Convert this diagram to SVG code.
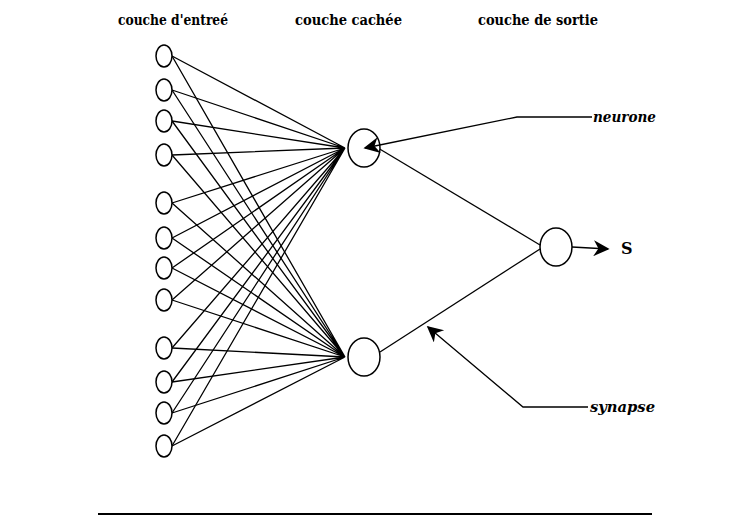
<svg xmlns="http://www.w3.org/2000/svg" width="733" height="518" viewBox="0 0 733 518">
<style>
.n{fill:#fff;stroke:#000;stroke-width:1.5}
.e{stroke:#000;stroke-width:1.3;fill:none}
.t{font-family:"DejaVu Serif","Liberation Serif",serif;font-size:14px;font-weight:bold;fill:#000}
.i{font-family:"DejaVu Serif","Liberation Serif",serif;font-size:14px;font-style:italic;font-weight:bold;fill:#000}
.s{font-family:"DejaVu Serif","Liberation Serif",serif;font-size:16px;font-weight:bold;fill:#000}
</style>
<defs>
<marker id="ab" viewBox="0 0 10 10" refX="9" refY="5" markerWidth="20" markerHeight="16" markerUnits="userSpaceOnUse" orient="auto">
<path d="M0,0 L10,5 L0,10 L3,5 z" fill="#000"/>
</marker>
</defs>
<rect width="733" height="518" fill="#fff"/>
<text class="t" x="118" y="25" textLength="110" lengthAdjust="spacingAndGlyphs">couche d'entreé</text>
<text class="t" x="295" y="25" textLength="107" lengthAdjust="spacingAndGlyphs">couche cachée</text>
<text class="t" x="478" y="25" textLength="120" lengthAdjust="spacingAndGlyphs">couche de sortie</text>
<g id="connectors">
<path class="e" d="M172,56L345,148M172,90L345,148M172,121L345,148M172,155L345,148M172,203L345,148M172,238L345,148M172,268L345,148M172,300L345,148M172,348L345,148M172,382L345,148M172,413L345,148M172,446L345,148"/>
<path class="e" d="M172,56L345,357M172,90L345,357M172,121L345,357M172,155L345,357M172,203L345,357M172,238L345,357M172,268L345,357M172,300L345,357M172,348L345,357M172,382L345,357M172,413L345,357M172,446L345,357"/>
<path class="e" d="M378,148L540,245"/>
<path class="e" d="M380,352L540,249"/>
<path class="e" d="M572,247L608,249" stroke-width="1.5" marker-end="url(#ab)"/>
<path class="e" d="M588,407L523,407L428,327" marker-end="url(#ab)"/>
<path d="M98,514L652,514" stroke="#000" stroke-width="2"/>
</g>
<g id="input1"><ellipse class="n" cx="164" cy="56" rx="8" ry="11"/></g>
<g id="input2"><ellipse class="n" cx="164" cy="90" rx="8" ry="11"/></g>
<g id="input3"><ellipse class="n" cx="164" cy="121" rx="8" ry="11"/></g>
<g id="input4"><ellipse class="n" cx="164" cy="155" rx="8" ry="11"/></g>
<g id="input5"><ellipse class="n" cx="164" cy="203" rx="8" ry="11"/></g>
<g id="input6"><ellipse class="n" cx="164" cy="238" rx="8" ry="11"/></g>
<g id="input7"><ellipse class="n" cx="164" cy="268" rx="8" ry="11"/></g>
<g id="input8"><ellipse class="n" cx="164" cy="300" rx="8" ry="11"/></g>
<g id="input9"><ellipse class="n" cx="164" cy="348" rx="8" ry="11"/></g>
<g id="input10"><ellipse class="n" cx="164" cy="382" rx="8" ry="11"/></g>
<g id="input11"><ellipse class="n" cx="164" cy="413" rx="8" ry="11"/></g>
<g id="input12"><ellipse class="n" cx="164" cy="446" rx="8" ry="11"/></g>
<g id="hidden1"><ellipse class="n" cx="364" cy="148" rx="16" ry="19"/></g>
<g id="hidden2"><ellipse class="n" cx="364" cy="357" rx="16" ry="19"/></g>
<g id="output"><ellipse class="n" cx="556" cy="247" rx="16" ry="19"/></g>
<g id="pointer-neurone">
<path class="e" d="M592,117L517,117L365,148" marker-end="url(#ab)"/>
</g>
<text class="s" x="621" y="254">S</text>
<text class="i" x="593" y="122" textLength="63" lengthAdjust="spacingAndGlyphs">neurone</text>
<text class="i" x="590" y="412" textLength="65" lengthAdjust="spacingAndGlyphs">synapse</text>
</svg>
